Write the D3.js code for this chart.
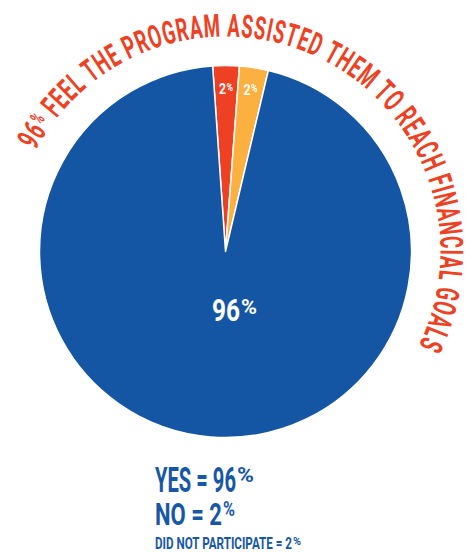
<!DOCTYPE html>
<html>
<head>
<meta charset="utf-8">
<script src="https://cdn.jsdelivr.net/npm/d3@7"></script>
<style>
  html, body { margin: 0; padding: 0; background: #fff; }
  svg { display: block; }
  text { font-family: Roboto, "DejaVu Sans", sans-serif; font-weight: 700; }
</style>
</head>
<body>
<svg id="chart" width="473" height="552"></svg>
<script>
// ---- data ----
const categories = ["No", "Did not participate", "Yes"];
const sliceShares = [2.3, 2.5, 95.2];          // drawn slice sizes as measured in the picture
const sliceLabels = ["2", "2", "96"];           // printed percentages
const sliceColors = ["#ee4124", "#fbb040", "#1456a3"];
const titleText = "96% FEEL THE PROGRAM ASSISTED THEM TO REACH FINANCIAL GOALS";
const legendLines = [
  { label: "YES", value: "96" },
  { label: "NO", value: "2" },
  { label: "DID NOT PARTICIPATE", value: "2" }
];

// ---- layout ----
const W = 473, H = 552;
const cx = 225.5, cy = 251.5, R = 186;
const deg = Math.PI / 180;
const svg = d3.select("#chart");

// draws "NN" + small raised "%" as two condensed texts
function pctText(parent, x, y, main, o) {
  parent.append("text")
    .attr("x", x).attr("y", y)
    .attr("fill", o.fill).attr("font-size", o.size)
    .attr("textLength", o.mainLen).attr("lengthAdjust", "spacingAndGlyphs")
    .text(main);
  parent.append("text")
    .attr("x", x + o.mainLen + o.gap).attr("y", y - o.capH + o.pctH)
    .attr("fill", o.fill).attr("font-size", o.pctH / 0.72)
    .attr("textLength", o.pctLen).attr("lengthAdjust", "spacingAndGlyphs")
    .text("%");
}

// ---- pie ----
const pie = d3.pie().sort(null).value(d => d.v).startAngle(-3.97 * deg).endAngle(-3.97 * deg + 2 * Math.PI);
const arcs = pie(sliceShares.map((v, i) => ({ v, i })));
const arc = d3.arc().innerRadius(0).outerRadius(R);
const g = svg.append("g").attr("transform", `translate(${cx},${cy})`);
g.selectAll("path").data(arcs).join("path")
  .attr("d", arc)
  .attr("fill", d => sliceColors[d.data.i])
  .attr("stroke", "#fff")
  .attr("stroke-width", 1.5)
  .attr("stroke-linejoin", "round");

// small slice labels
const labelArc = d3.arc().innerRadius(163).outerRadius(163);
arcs.slice(0, 2).forEach(d => {
  const [x, y] = labelArc.centroid(d);
  pctText(g, x - 7, y + 5, sliceLabels[d.data.i],
    { fill: "#fff", size: 15, mainLen: 7, gap: 0.5, capH: 10.5, pctH: 7.5, pctLen: 6.5 });
});

// big label
pctText(g, 212 - cx, 321 - cy, sliceLabels[2],
  { fill: "#fff", size: 31, mainLen: 28, gap: 1, capH: 22, pctH: 15, pctLen: 16 });

// ---- curved title ----
{
  const S = 32, pctScale = 0.62, Rb = 215;
  const th0 = -62 * deg, th1 = 116 * deg;
  const arcLen = Rb * (th1 - th0);
  const ctx = document.createElement("canvas").getContext("2d");
  const chars = Array.from(titleText).map(c => {
    const size = c === "%" ? S * pctScale : S;
    ctx.font = `700 ${size}px Roboto`;
    return { c, size, w: ctx.measureText(c).width };
  });
  const spacing = 0.9;
  const natural = d3.sum(chars, d => d.w);
  const sx = (arcLen - spacing * (chars.length - 1)) / natural;
  let s = 0;
  const tg = svg.append("g");
  chars.forEach(ch => {
    const sw = ch.w * sx;
    const sc = s + sw / 2;
    const th = th0 + sc / Rb;
    const raise = ch.c === "%" ? 0.711 * S * (1 - pctScale) : 0;
    const r = Rb + raise;
    const x = cx + r * Math.sin(th), y = cy - r * Math.cos(th);
    if (ch.c !== " ") {
      tg.append("text")
        .attr("transform", `translate(${x},${y}) rotate(${th / deg}) scale(${sx},1)`)
        .attr("text-anchor", "middle")
        .attr("font-size", ch.size)
        .attr("fill", "#ee4124")
        .text(ch.c);
    }
    s += sw + spacing;
  });
}

// ---- legend ----
const legendSpec = [
  { y: 492, size: 35, capH: 25, mainLen: 81, pctH: 15, pctLen: 17 },
  { y: 525, size: 32, capH: 23, mainLen: 67, pctH: 14, pctLen: 12 },
  { y: 549, size: 17, capH: 12, mainLen: 137, pctH: 8, pctLen: 8 }
];
legendLines.forEach((d, i) => {
  const sp = legendSpec[i];
  pctText(svg, 155, sp.y, `${d.label} = ${d.value}`,
    { fill: "#1757a6", size: sp.size, mainLen: sp.mainLen, gap: 1, capH: sp.capH, pctH: sp.pctH, pctLen: sp.pctLen });
});
</script>
</body>
</html>
